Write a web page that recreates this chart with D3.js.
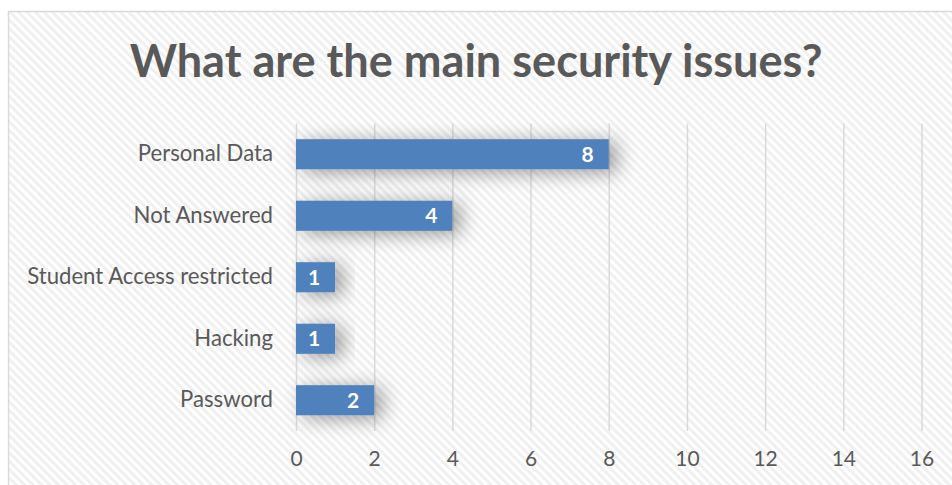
<!DOCTYPE html>
<html>
<head>
<meta charset="utf-8">
<script src="https://cdn.jsdelivr.net/npm/d3@7"></script>
<style>
  html, body { margin: 0; padding: 0; background: #fff; }
  svg { display: block; }
</style>
</head>
<body>
<svg id="chart" width="952" height="485"></svg>
<script>
// Survey responses: main security issues
const categories = ["Personal Data", "Not Answered", "Student Access restricted", "Hacking", "Password"];
const counts = [8, 4, 1, 1, 2];
const xTicks = [0, 2, 4, 6, 8, 10, 12, 14, 16];
const title = "What are the main security issues?";

const W = 952, H = 485;
const svg = d3.select("#chart");
const defs = svg.append("defs");

// Diagonal light stripes for the chart background
const pat = defs.append("pattern")
  .attr("id", "stripes")
  .attr("patternUnits", "userSpaceOnUse")
  .attr("width", 6).attr("height", 6)
  .attr("patternTransform", "rotate(45)");
pat.append("rect").attr("width", 6).attr("height", 6).attr("fill", "#ffffff");
pat.append("rect").attr("width", 6).attr("height", 3).attr("fill", "#f0f0f0");

// Soft drop shadow for bars
const f = defs.append("filter").attr("id", "shadow")
  .attr("x", "-30%").attr("y", "-100%").attr("width", "180%").attr("height", "300%");
f.append("feGaussianBlur").attr("in", "SourceAlpha").attr("stdDeviation", 10).attr("result", "b");
f.append("feOffset").attr("in", "b").attr("dx", 8).attr("dy", 3).attr("result", "o");
f.append("feComponentTransfer").attr("in", "o").attr("result", "s")
  .append("feFuncA").attr("type", "linear").attr("slope", 0.4);
const m = f.append("feMerge");
m.append("feMergeNode").attr("in", "s");
m.append("feMergeNode").attr("in", "SourceGraphic");

// Background and frame
svg.append("rect").attr("x", 0).attr("y", 0).attr("width", W).attr("height", H).attr("fill", "#fff");
svg.append("rect")
  .attr("x", 8.5).attr("y", 11.5).attr("width", 1000).attr("height", 600)
  .attr("fill", "url(#stripes)")
  .attr("stroke", "#d9d9d9").attr("stroke-width", 1.5);

const x = d3.scaleLinear().domain([0, 16]).range([296, 921.5]);
const y = d3.scaleBand().domain(categories).range([123.5, 431]).paddingInner(0.51).paddingOuter(0.255);

const font = "Lato, 'Open Sans', sans-serif";
const textColor = "#595959";

// Title, scaled to a fixed width
const t = svg.append("text")
  .attr("x", 476).attr("y", 77)
  .attr("text-anchor", "middle")
  .attr("font-family", font).attr("font-weight", 700)
  .attr("font-size", 40).attr("fill", textColor)
  .text(title);
const tw = t.node().getComputedTextLength();
t.attr("font-size", 40 * 693 / tw);

// Vertical gridlines
const grid = svg.append("g")
  .attr("transform", `translate(0,${431})`)
  .call(d3.axisBottom(x).tickValues(xTicks).tickSize(-(431 - 123.5)).tickFormat(""));
grid.select(".domain").remove();
grid.selectAll("line").attr("stroke", "#d9d9d9").attr("stroke-width", 1.5);

// Bars
svg.append("g").selectAll("rect")
  .data(categories)
  .join("rect")
  .attr("x", x(0))
  .attr("y", d => y(d))
  .attr("width", (d, i) => x(counts[i]) - x(0))
  .attr("height", y.bandwidth())
  .attr("fill", "#4f81bd")
  .attr("filter", "url(#shadow)");

// Value labels inside bar ends
svg.append("g").selectAll("text")
  .data(categories)
  .join("text")
  .attr("x", (d, i) => x(counts[i]) - 15)
  .attr("y", d => y(d) + y.bandwidth() / 2)
  .attr("dy", "0.36em")
  .attr("text-anchor", "end")
  .attr("font-family", font).attr("font-weight", 700)
  .attr("font-size", 21).attr("fill", "#ffffff")
  .text((d, i) => counts[i]);

// Category axis
const ya = svg.append("g")
  .attr("transform", `translate(${x(0)},0)`)
  .call(d3.axisLeft(y).tickSize(0).tickPadding(23));
ya.select(".domain").remove();
ya.selectAll("text")
  .attr("font-family", font).attr("font-size", 21).attr("fill", textColor);
// fit longest category label to its measured width
let maxW = 0;
ya.selectAll("text").each(function () { maxW = Math.max(maxW, this.getComputedTextLength()); });
ya.selectAll("text").attr("font-size", 21 * 246 / maxW);

// Value axis labels
const xa = svg.append("g")
  .attr("transform", `translate(0,${431})`)
  .call(d3.axisBottom(x).tickValues(xTicks).tickSize(0).tickPadding(20));
xa.select(".domain").remove();
xa.selectAll("text")
  .attr("font-family", font).attr("font-size", 21).attr("fill", textColor);
</script>
</body>
</html>
